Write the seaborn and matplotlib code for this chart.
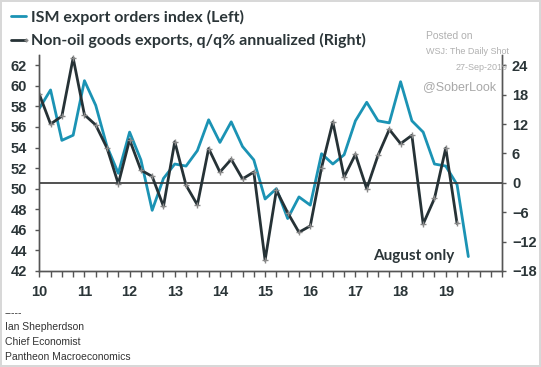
import numpy as np
import pandas as pd
import matplotlib.pyplot as plt
from matplotlib.lines import Line2D
import seaborn as sns

# quarterly data, 2010Q1 .. 2019Q2 (ISM has an extra "August only" point)
quarters = ['2010Q1', '2010Q2', '2010Q3', '2010Q4', '2011Q1', '2011Q2', '2011Q3', '2011Q4',
            '2012Q1', '2012Q2', '2012Q3', '2012Q4', '2013Q1', '2013Q2', '2013Q3', '2013Q4',
            '2014Q1', '2014Q2', '2014Q3', '2014Q4', '2015Q1', '2015Q2', '2015Q3', '2015Q4',
            '2016Q1', '2016Q2', '2016Q3', '2016Q4', '2017Q1', '2017Q2', '2017Q3', '2017Q4',
            '2018Q1', '2018Q2', '2018Q3', '2018Q4', '2019Q1', '2019Q2', '2019Q3']

ism_export = [57.8, 59.6, 54.7, 55.2, 60.5, 58.1, 54.1, 51.5,
              55.5, 52.8, 47.9, 51.0, 52.4, 52.2, 53.7, 56.7,
              54.5, 56.5, 54.1, 52.8, 49.0, 50.0, 47.1, 49.2,
              48.4, 53.4, 52.4, 53.3, 56.6, 58.4, 56.6, 56.4,
              60.4, 56.6, 55.5, 52.4, 52.2, 50.4, 43.4]

nonoil_exports = [18.1, 12.0, 13.6, 25.5, 13.9, 11.8, 7.1, -0.2,
                  8.8, 2.6, 1.3, -4.8, 8.4, -0.5, -4.5, 7.0,
                  2.2, 4.8, 0.8, 2.2, -15.8, -1.5, -6.1, -10.1,
                  -8.8, 3.1, 12.4, 1.2, 5.8, -1.2, 5.6, 10.9,
                  8.0, 9.7, -8.4, -3.2, 7.1, -8.3]

year_labels = ['10', '11', '12', '13', '14', '15', '16', '17', '18', '19']

teal = '#1b93b4'
dark = '#263236'
txt = '#2b3538'

# decimal-year x positions from the quarter strings
per = pd.PeriodIndex(quarters, freq='Q')
xq = per.year + (per.quarter - 1) / 4.0
ism = pd.DataFrame({'x': xq, 'v': ism_export})
exp = pd.DataFrame({'x': xq[:len(nonoil_exports)], 'v': nonoil_exports})

sns.set_style("ticks")
plt.rcParams['font.family'] = ['Liberation Sans', 'DejaVu Sans']

fig = plt.figure(figsize=(5.41, 3.67), dpi=100)
fig.patch.set_facecolor('white')
fig.patch.set_edgecolor('#d8d8d8')
fig.patch.set_linewidth(1.5)
ax = fig.add_axes([0.0726, 0.2616, 0.8557, 0.5886])
ax2 = ax.twinx()

sns.lineplot(data=ism, x='x', y='v', ax=ax, color=teal, linewidth=2)
sns.lineplot(data=exp, x='x', y='v', ax=ax2, color=dark, linewidth=2,
             marker='+', markersize=4, markeredgecolor='#888888', markeredgewidth=1)
ax2.axhline(0, color='#333333', linewidth=1.2, zorder=1)

ax.set_xlim(2010, 2020.25)
ax.set_ylim(42, 63)
ax2.set_ylim(-18, 26.1)
ax.set_yticks(np.arange(42, 63, 2))
ax2.set_yticks(np.arange(-18, 25, 6))
years = [2000 + int(y) for y in year_labels]
ax.set_xticks(years)
ax.set_xticklabels(year_labels)
ax.set_xticks(np.arange(2010, 2020.3, 0.25), minor=True)
for a in (ax, ax2):
    a.set_xlabel('')
    a.set_ylabel('')
    a.spines['top'].set_visible(False)
    for s in ('left', 'right', 'bottom'):
        a.spines[s].set_color('#555555')
        a.spines[s].set_linewidth(1)
    a.tick_params(axis='both', which='both', colors='#555555', length=3, width=1,
                  labelsize=10.5, labelcolor=txt)
    for lab in a.get_yticklabels() + a.get_xticklabels():
        lab.set_fontweight('bold')
ax.tick_params(axis='y', pad=6)
ax.tick_params(axis='x', which='major', length=4, pad=6)
ax.tick_params(axis='x', which='minor', length=4)
ax2.tick_params(axis='y', pad=4)

ax2.text(2018.29, -14.9, 'August only', fontsize=11, fontweight='bold', color=txt,
         ha='center', va='center', family=['Lato', 'DejaVu Sans'])

# legend drawn at top
fig.add_artist(Line2D([11 / 541, 26 / 541], [1 - 15.5 / 367] * 2, color=teal, lw=2))
fig.add_artist(Line2D([11 / 541, 26 / 541], [1 - 39.5 / 367] * 2, color=dark, lw=2,
                      marker='+', markevery=[1], markersize=3, markeredgecolor='#888'))
fig.text(31 / 541, 1 - 17 / 367, 'ISM export orders index (Left)', fontsize=11.5,
         fontweight='bold', color=txt, va='center', family=['Lato', 'DejaVu Sans'])
fig.text(31 / 541, 1 - 40 / 367, 'Non-oil goods exports, q/q% annualized (Right)', fontsize=11.5,
         fontweight='bold', color=txt, va='center', family=['Lato', 'DejaVu Sans'])

# watermark
fig.text(426 / 541, 1 - 36 / 367, 'Posted on', fontsize=7.5, color='#b0b0b0', va='center')
fig.text(426 / 541, 1 - 51.5 / 367, 'WSJ: The Daily Shot', fontsize=6.5, color='#b0b0b0', va='center')
fig.text(508 / 541, 1 - 67 / 367, '27-Sep-2019', fontsize=6.5, color='#b0b0b0', va='center', ha='right')
fig.text(423 / 541, 1 - 87 / 367, '@SoberLook', fontsize=9, color='#a8a8a8', va='center')

# footer
footer = ['-----', 'Ian Shepherdson', 'Chief Economist', 'Pantheon Macroeconomics']
for i, line in enumerate(footer):
    fig.text(5 / 541, 1 - (313 + i * 14.5) / 367, line, fontsize=7.5, color='#333333', va='center')

fig.savefig('out.png', dpi=100, facecolor=fig.get_facecolor(), edgecolor=fig.get_edgecolor())
